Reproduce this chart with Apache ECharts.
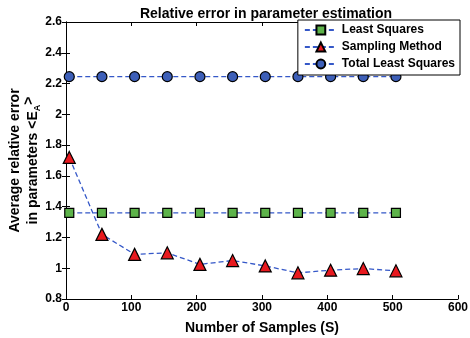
<!DOCTYPE html>
<html>
<head>
<meta charset="utf-8">
<script src="https://cdn.jsdelivr.net/npm/echarts@6/dist/echarts.min.js"></script>
<style>
  html, body { margin: 0; padding: 0; background: #fff; }
  #main { width: 470px; height: 338px; }
</style>
</head>
<body>
<div id="main"></div>
<script>
// sample counts on x axis
var samples = [5, 55, 105, 155, 205, 255, 305, 355, 405, 455, 505];
var leastSquares = [1.36, 1.36, 1.36, 1.36, 1.36, 1.36, 1.36, 1.36, 1.36, 1.36, 1.36];
var samplingMethod = [1.72, 1.22, 1.09, 1.10, 1.025, 1.05, 1.015, 0.97, 0.987, 0.998, 0.983];
var totalLeastSquares = [2.245, 2.245, 2.245, 2.245, 2.245, 2.245, 2.245, 2.245, 2.245, 2.245, 2.245];

function pairs(ys) {
    var out = [];
    for (var i = 0; i < samples.length; i++) {
        out.push([samples[i], ys[i]]);
    }
    return out;
}

var font = 'Liberation Sans, Arial, sans-serif';
var lineColor = '#3558c8';

function mkSeries(name, ys, symbol, color, size) {
    return {
        name: name,
        type: 'line',
        data: pairs(ys),
        symbol: symbol,
        symbolSize: size,
        itemStyle: { color: color, borderColor: '#000', borderWidth: 1.2 },
        lineStyle: { color: lineColor, type: [5, 3], width: 1.3 },
        animation: false
    };
}

var chart = echarts.init(document.getElementById('main'));
var option = {
    backgroundColor: '#fff',
    title: {
        text: 'Relative error in parameter estimation',
        left: 261, top: 2, textAlign: 'center',
        textStyle: { fontFamily: font, fontSize: 14, fontWeight: 'bold', color: '#000' }
    },
    legend: {
        orient: 'vertical',
        right: 10, top: 20,
        backgroundColor: '#fff',
        borderColor: '#000', borderWidth: 1,
        padding: [4, 5, 5, 6],
        itemGap: 5,
        itemWidth: 32, itemHeight: 11,
        textStyle: { fontFamily: font, fontSize: 12, fontWeight: 'bold', color: '#000' },
        data: ['Least Squares', 'Sampling Method', 'Total Least Squares']
    },
    grid: { left: 66, right: 12, top: 22, bottom: 39, outerBoundsMode: 'none' },
    xAxis: [{
        type: 'value', min: 0, max: 600, interval: 100,
        name: 'Number of Samples (S)', nameLocation: 'middle', nameGap: 22, nameMoveOverlap: false,
        nameTextStyle: { fontFamily: font, fontSize: 14, fontWeight: 'bold', color: '#000' },
        axisLine: { lineStyle: { color: '#000', width: 1 } },
        axisTick: { inside: true, length: 4, lineStyle: { color: '#000' } },
        axisLabel: { fontFamily: font, fontSize: 12, fontWeight: 'bold', color: '#000', margin: 3 },
        splitLine: { show: false }
    }, {
        type: 'value', min: 0, max: 600, interval: 100, position: 'top',
        axisLine: { lineStyle: { color: '#000', width: 1 } },
        axisTick: { inside: true, length: 4, lineStyle: { color: '#000' } },
        axisLabel: { show: false },
        splitLine: { show: false }
    }],
    yAxis: [{
        type: 'value', min: 0.8, max: 2.6, interval: 0.2,
        name: 'Average relative error\nin parameters <E{sub|A}{sup|>}',
        nameLocation: 'middle', nameGap: 24, nameRotate: 90, nameMoveOverlap: false,
        nameTextStyle: {
            fontFamily: font, fontSize: 14, fontWeight: 'bold', color: '#000', lineHeight: 18,
            rich: {
                sub: { fontFamily: font, fontSize: 9, fontWeight: 'bold', color: '#000', verticalAlign: 'bottom', padding: [7, 0, 0, 0] },
                sup: { fontFamily: font, fontSize: 14, fontWeight: 'bold', color: '#000', padding: [0, 0, 7, 0] }
            }
        },
        axisLine: { lineStyle: { color: '#000', width: 1 } },
        axisTick: { inside: true, length: 4, lineStyle: { color: '#000' } },
        axisLabel: {
            fontFamily: font, fontSize: 12, fontWeight: 'bold', color: '#000', margin: 4,
            formatter: function (v) { return String(Math.round(v * 10) / 10); }
        },
        splitLine: { show: false }
    }, {
        type: 'value', min: 0.8, max: 2.6, interval: 0.2, position: 'right',
        axisLine: { lineStyle: { color: '#000', width: 1 } },
        axisTick: { inside: true, length: 4, lineStyle: { color: '#000' } },
        axisLabel: { show: false },
        splitLine: { show: false }
    }],
    series: [
        mkSeries('Least Squares', leastSquares, 'rect', '#5db34a', 9),
        mkSeries('Sampling Method', samplingMethod, 'triangle', '#e8191f', 12),
        mkSeries('Total Least Squares', totalLeastSquares, 'circle', '#3d5fb8', 10)
    ]
};
chart.setOption(option);
</script>
</body>
</html>
